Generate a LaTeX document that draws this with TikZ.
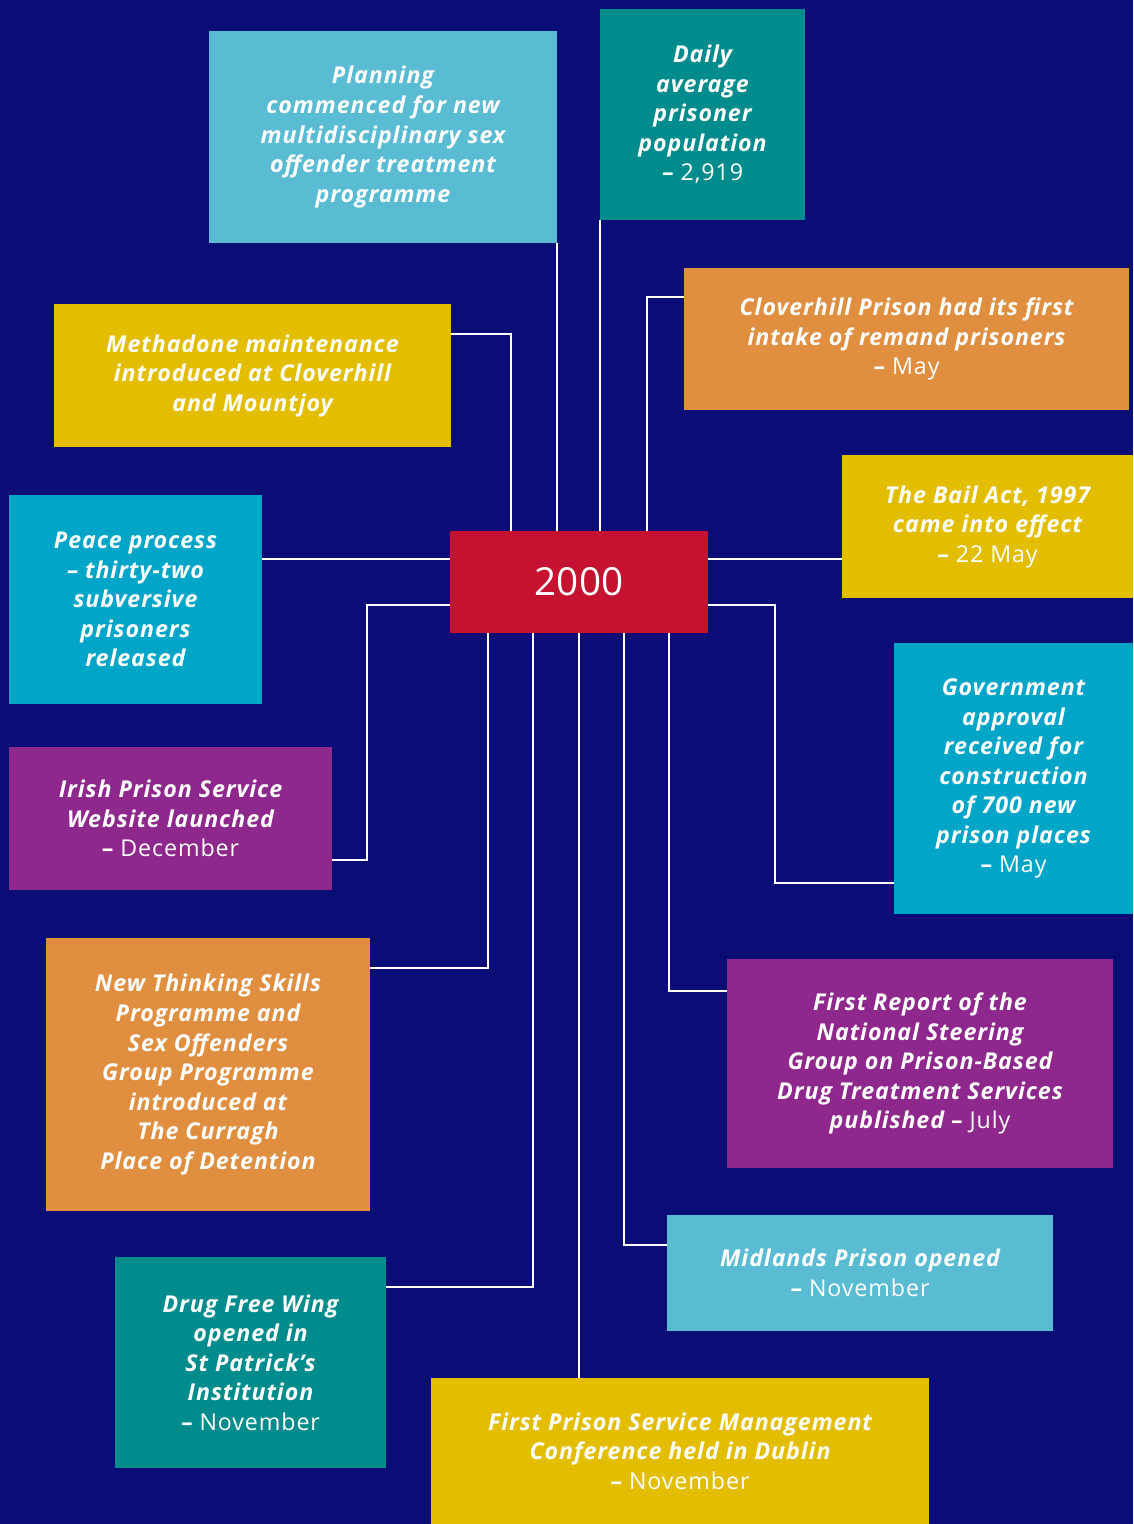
\documentclass[tikz,border=0pt]{standalone}
\usepackage{fontspec}
\setmainfont{Open Sans}
\newfontfamily\boxfont[LetterSpace=4]{Open Sans}
\definecolor{navy}{RGB}{10,13,117}
\definecolor{yearred}{RGB}{196,18,48}
\definecolor{sky}{RGB}{90,188,210}
\definecolor{teal}{RGB}{0,140,140}
\definecolor{amber}{RGB}{224,143,64}
\definecolor{mustard}{RGB}{227,190,0}
\definecolor{cyan}{RGB}{0,165,200}
\definecolor{plum}{RGB}{142,40,140}
\newcommand{\px}{0.02cm}
\newcommand{\when}[1]{{\upshape –\mdseries\ #1}}
\tikzset{
  event/.style={text=white, align=center, inner sep=0pt,
    font=\boxfont\bfseries\itshape\fontsize{13.2}{16.8}\selectfont},
  link/.style={draw=white, line width=1.2pt},
}
\begin{document}
\begin{tikzpicture}[x=\px, y=-\px]
  % background
  \fill[navy] (0,0) rectangle (1133,1524);
  \useasboundingbox (0,0) rectangle (1133,1524);
  % the year
  \node[fill=yearred, text=white, font=\fontsize{22}{26}\selectfont,
    minimum width=258*\px, minimum height=102*\px] (yr) at (579,582) {2000};
  % events above
  \node[event, fill=sky, minimum width=348*\px, minimum height=212*\px] (plan) at (383,137)
    {Planning\\commenced for new\\multidisciplinary sex\\offender treatment\\programme};
  \node[event, fill=teal, minimum width=205*\px, minimum height=211*\px] (daily) at (702.5,114.5)
    {Daily\\average\\prisoner\\population\\\when{2,919}};
  \node[event, fill=mustard, minimum width=397*\px, minimum height=143*\px] (meth) at (252.5,375.5)
    {Methadone maintenance\\introduced at Cloverhill\\and Mountjoy};
  \node[event, fill=amber, minimum width=445*\px, minimum height=142*\px] (clov) at (906.5,339)
    {Cloverhill Prison had its first\\intake of remand prisoners\\\when{May}};
  % events beside
  \node[event, fill=cyan, minimum width=253*\px, minimum height=209*\px] (peace) at (135.5,599.5)
    {Peace process\\– thirty-two\\subversive\\prisoners\\released};
  \node[event, fill=mustard, minimum width=291*\px, minimum height=143*\px] (bail) at (987.5,526.5)
    {The Bail Act, 1997\\came into effect\\\when{22 May}};
  \node[event, fill=plum, minimum width=323*\px, minimum height=143*\px] (irish) at (170.5,818.5)
    {Irish Prison Service\\Website launched\\\when{December}};
  \node[event, fill=cyan, minimum width=239*\px, minimum height=271*\px] (gov) at (1013.5,778.5)
    {Government\\approval\\received for\\construction\\of 700 new\\prison places\\\when{May}};
  % events below
  \node[event, fill=amber, minimum width=324*\px, minimum height=273*\px] (newt) at (208,1074.5)
    {New Thinking Skills\\Programme and\\Sex Offenders\\Group Programme\\introduced at\\The Curragh\\Place of Detention};
  \node[event, fill=plum, minimum width=386*\px, minimum height=209*\px] (rep) at (920,1063.5)
    {First Report of the\\National Steering\\Group on Prison-Based\\Drug Treatment Services\\published \when{July}};
  \node[event, fill=sky, minimum width=386*\px, minimum height=116*\px] (mid) at (860,1273)
    {Midlands Prison opened\\\when{November}};
  \node[event, fill=teal, minimum width=271*\px, minimum height=211*\px] (dfw) at (250.5,1362.5)
    {Drug Free Wing\\opened in\\St Patrick’s\\Institution\\\when{November}};
  \node[event, fill=mustard, minimum width=498*\px, minimum height=146*\px] (conf) at (680,1451)
    {First Prison Service Management\\Conference held in Dublin\\\when{November}};
  % connectors
  \draw[link] (plan.south east) -- (plan.south east |- yr.north);
  \draw[link] (daily.south west) -- (daily.south west |- yr.north);
  \draw[link] (meth.east |- 0,334) -| (yr.north -| 511,0);
  \draw[link] (clov.west |- 0,297) -| (yr.north -| 647,0);
  \draw[link] (peace.east |- 0,559) -- (yr.west |- 0,559);
  \draw[link] (yr.east |- 0,559) -- (bail.west |- 0,559);
  \draw[link] (yr.west |- 0,605) -| (367,860) -- (irish.east |- 0,860);
  \draw[link] (yr.east |- 0,605) -| (775,883) -- (gov.west |- 0,883);
  \draw[link] (yr.south -| 488,0) |- (newt.east |- 0,968);
  \draw[link] (yr.south -| 669,0) |- (rep.west |- 0,991);
  \draw[link] (yr.south -| 533,0) |- (dfw.east |- 0,1287);
  \draw[link] (yr.south -| 624,0) |- (mid.west |- 0,1245);
  \draw[link] (yr.south) -- (yr.south |- conf.north);
\end{tikzpicture}
\end{document}
